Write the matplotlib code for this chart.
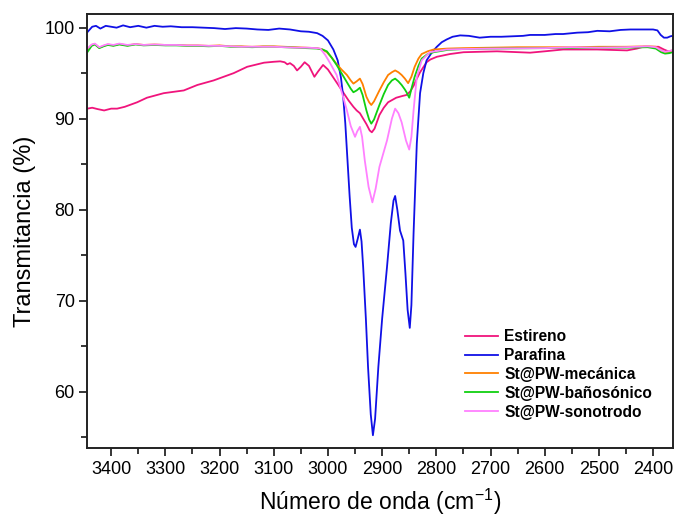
import matplotlib
matplotlib.use("Agg")
import matplotlib.pyplot as plt
from matplotlib.ticker import MultipleLocator

plt.rcParams['font.family'] = ['Liberation Sans', 'DejaVu Sans']

# ---------------- data ----------------
wn_par = [3444, 3435, 3428, 3420, 3410, 3400, 3390, 3378, 3365, 3350, 3335, 3320, 3305, 3290,
          3270, 3250, 3230, 3210, 3190, 3170, 3150, 3130, 3110, 3090, 3070, 3050, 3035, 3020,
          3010, 3000, 2990, 2982, 2976, 2972, 2968, 2964, 2960, 2956, 2952, 2949, 2945, 2941,
          2938, 2935, 2930, 2926, 2921, 2917, 2913, 2907, 2900, 2891, 2884, 2879, 2876, 2872,
          2867, 2861, 2857, 2853, 2849, 2846, 2842, 2836, 2830, 2824, 2818, 2808, 2799, 2790,
          2781, 2770, 2756, 2740, 2720, 2700, 2680, 2660, 2640, 2627, 2600, 2580, 2566, 2540,
          2520, 2503, 2480, 2460, 2442, 2420, 2400, 2392, 2386, 2380, 2374, 2368, 2364]
t_par = [99.5, 100.1, 100.2, 99.9, 100.2, 100.1, 100.0, 100.25, 100.05, 100.2, 100.0, 100.2, 100.1, 100.15,
         100.05, 100.05, 100.0, 99.95, 99.85, 99.95, 99.9, 99.8, 99.75, 99.9, 99.8, 99.6, 99.55, 99.4,
         99.1, 98.6, 97.6, 96.4, 94.5, 92.5, 89.5, 85.5, 81.5, 78.0, 76.2, 75.9, 76.8, 77.8,
         76.5, 73.7, 68.0, 62.7, 57.5, 55.2, 57.0, 62.7, 68.0, 73.7, 78.5, 81.0, 81.5, 80.0,
         77.7, 76.6, 73.0, 69.0, 67.0, 69.5, 77.4, 87.3, 92.8, 95.0, 96.4, 97.3, 97.9, 98.4,
         98.7, 99.0, 99.15, 99.1, 98.9, 99.0, 99.0, 99.05, 99.1, 99.2, 99.2, 99.3, 99.3, 99.45,
         99.5, 99.65, 99.6, 99.75, 99.8, 99.8, 99.8, 99.7, 99.2, 98.9, 98.9, 99.05, 99.1]

wn_flat = [3444, 3436, 3430, 3422, 3414, 3406, 3396, 3385, 3370, 3355, 3340, 3320, 3300, 3280,
           3260, 3240, 3220, 3200, 3180, 3160, 3140, 3120, 3100, 3080, 3060, 3040, 3020]
t_mec_left = [97.6, 98.1, 98.2, 97.8, 98.0, 98.15, 98.05, 98.2, 98.05, 98.2, 98.1, 98.15, 98.1, 98.1,
              98.05, 98.05, 98.0, 98.05, 97.95, 97.95, 97.9, 97.95, 97.95, 97.9, 97.85, 97.8, 97.75]
t_ban_left = [97.3, 98.0, 98.15, 97.75, 97.95, 98.1, 98.0, 98.15, 98.0, 98.15, 98.05, 98.1, 98.05, 98.05,
              98.0, 98.0, 97.95, 98.0, 97.9, 97.9, 97.85, 97.9, 97.9, 97.85, 97.8, 97.75, 97.7]
t_son_left = [97.7, 98.15, 98.25, 97.85, 98.05, 98.2, 98.1, 98.25, 98.1, 98.2, 98.1, 98.15, 98.1, 98.1,
              98.05, 98.05, 98.0, 98.0, 97.95, 97.9, 97.9, 97.9, 97.9, 97.85, 97.8, 97.8, 97.75]

wn_mec_r = [3010, 3002, 2993, 2984, 2975, 2965, 2958, 2953, 2947, 2941, 2936, 2929, 2924, 2920,
            2915, 2905, 2897, 2889, 2882, 2876, 2870, 2864, 2858, 2852, 2846, 2840, 2833, 2827,
            2816, 2805, 2780, 2750, 2700, 2650, 2600, 2550, 2500, 2450, 2410, 2395, 2385, 2378,
            2370, 2364]
t_mec_r = [97.6, 97.3, 96.7, 96.0, 95.4, 94.8, 94.2, 93.85, 94.1, 94.4, 93.8, 92.4, 91.8, 91.5,
           91.9, 93.1, 94.0, 94.8, 95.1, 95.3, 95.1, 94.8, 94.4, 93.9, 94.6, 95.7, 96.6, 97.1,
           97.4, 97.6, 97.7, 97.75, 97.8, 97.85, 97.85, 97.85, 97.9, 97.9, 97.95, 97.9, 97.5, 97.3,
           97.35, 97.45]

wn_ban_r = [3010, 3002, 2993, 2984, 2975, 2965, 2958, 2953, 2947, 2941, 2936, 2929, 2924, 2920,
            2915, 2905, 2897, 2889, 2882, 2876, 2870, 2864, 2858, 2855, 2850, 2845, 2840, 2833,
            2827, 2816, 2805, 2780, 2750, 2700, 2600, 2500, 2450, 2410, 2395, 2385, 2378, 2370,
            2364]
t_ban_r = [97.6, 97.4, 96.7, 95.9, 95.0, 94.0, 93.3, 92.9, 93.1, 93.4, 92.6, 90.9, 89.9, 89.45,
           89.9, 91.5, 92.7, 93.7, 94.2, 94.4, 94.1, 93.7, 93.2, 92.9, 92.3, 93.5, 94.6, 95.8,
           96.6, 97.1, 97.3, 97.55, 97.65, 97.7, 97.75, 97.8, 97.8, 97.85, 97.7, 97.3, 97.15, 97.2,
           97.3]

wn_son_r = [3014, 3005, 2996, 2984, 2972, 2965, 2958, 2950, 2946, 2941, 2937, 2932, 2925, 2918,
            2912, 2905, 2891, 2882, 2876, 2870, 2864, 2856, 2850, 2846, 2842, 2836, 2827, 2812,
            2781, 2750, 2700, 2600, 2550, 2500, 2450, 2410, 2395, 2385, 2378, 2364]
t_son_r = [97.7, 97.0, 96.1, 94.8, 92.4, 90.9, 89.2, 88.0, 88.6, 89.1, 88.0, 85.4, 82.5, 80.8,
           82.3, 84.7, 87.6, 90.0, 91.1, 90.6, 89.6, 87.6, 86.6, 88.0, 90.9, 94.6, 96.4, 97.3,
           97.6, 97.65, 97.7, 97.75, 97.85, 97.8, 97.85, 97.95, 97.85, 97.5, 97.35, 97.5]

wn_est = [3444, 3435, 3425, 3413, 3400, 3389, 3375, 3352, 3334, 3303, 3266, 3241, 3211, 3174,
          3149, 3118, 3100, 3088, 3080, 3075, 3070, 3063, 3057, 3050, 3043, 3035, 3025, 3018,
          3009, 3000, 2991, 2982, 2972, 2962, 2953, 2947, 2941, 2935, 2929, 2923, 2919, 2914,
          2905, 2897, 2889, 2874, 2862, 2855, 2848, 2842, 2836, 2830, 2818, 2811, 2799, 2775,
          2750, 2688, 2627, 2600, 2566, 2503, 2448, 2430, 2418, 2390, 2380, 2372, 2364]
t_est = [91.1, 91.2, 91.05, 90.9, 91.1, 91.1, 91.3, 91.8, 92.3, 92.8, 93.1, 93.7, 94.2, 95.0,
         95.7, 96.15, 96.25, 96.3, 96.2, 95.97, 96.1, 95.8, 95.3, 95.7, 96.2, 95.8, 94.6, 95.2,
         95.9, 95.4, 94.6, 93.8, 92.9, 92.0, 91.3, 90.9, 90.6, 90.0, 89.4, 88.7, 88.5, 88.9,
         90.4, 91.2, 91.8, 92.3, 92.5, 92.6, 93.0, 93.6, 94.4, 95.1, 96.2, 96.5, 96.8, 97.1,
         97.3, 97.4, 97.25, 97.4, 97.6, 97.6, 97.5, 97.7, 97.9, 97.9, 97.6, 97.4, 97.5]

labels = ["Estireno", "Parafina", "St@PW-mecánica", "St@PW-bañosónico", "St@PW-sonotrodo"]
colors = ["#F0147C", "#1010E6", "#FF8000", "#10D010", "#FF80FF"]

# ---------------- figure ----------------
fig = plt.figure(figsize=(6.77, 5.19), dpi=100)
ax = fig.add_axes([0.129, 0.1368, 0.8645, 0.8362])

lw = 1.3
ax.plot(wn_est, t_est, color=colors[0], lw=lw, label=labels[0])
ax.plot(wn_par, t_par, color=colors[1], lw=lw, label=labels[1])
ax.plot(wn_flat + wn_mec_r, t_mec_left + t_mec_r, color=colors[2], lw=lw, label=labels[2])
ax.plot(wn_flat + wn_ban_r, t_ban_left + t_ban_r, color=colors[3], lw=lw, label=labels[3])
ax.plot(wn_flat + wn_son_r, t_son_left + t_son_r, color=colors[4], lw=lw, label=labels[4])

ax.set_xlim(3444, 2364)
ax.set_ylim(53.8, 101.5)
ax.xaxis.set_major_locator(MultipleLocator(100))
ax.xaxis.set_minor_locator(MultipleLocator(50))
ax.yaxis.set_major_locator(MultipleLocator(10))
ax.yaxis.set_minor_locator(MultipleLocator(5))
ax.tick_params(which='both', direction='out', width=1.1, labelsize=13, colors='black')
ax.tick_params(which='major', length=6, pad=3)
ax.tick_params(which='minor', length=4)
for s in ax.spines.values():
    s.set_linewidth(1.4)
    s.set_color('#222222')

ax.set_xlabel("Número de onda (cm$\\mathregular{^{-1}}$)", fontsize=16.5, labelpad=7)
ax.set_ylabel("Transmitancia (%)", fontsize=17, labelpad=6)

leg = ax.legend(loc='upper left', bbox_to_anchor=(0.645, 0.274), frameon=False,
                prop={'weight': 'bold', 'size': 11.2}, handlelength=2.15, handletextpad=0.38,
                labelspacing=0.25, borderpad=0, borderaxespad=0)

fig.savefig("out.png", dpi=100)
